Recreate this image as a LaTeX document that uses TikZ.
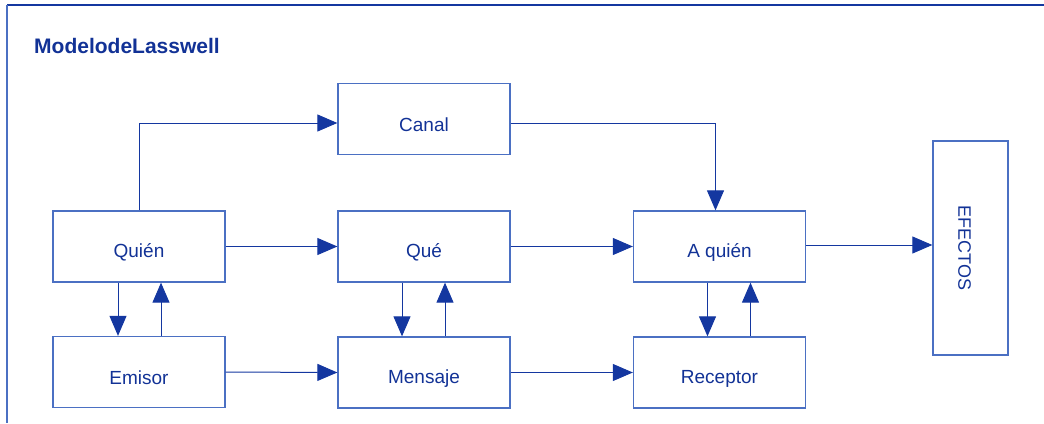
\documentclass[tikz,border=0pt]{standalone}
\usepackage{fontspec}
\setmainfont{Liberation Sans}
\usetikzlibrary{arrows.meta}
\definecolor{txtblue}{RGB}{18,50,150}
\definecolor{lineblue}{RGB}{20,55,160}
\definecolor{boxblue}{RGB}{75,112,195}
\newcommand{\lbl}[1]{\raisebox{-6pt}[\height][\depth]{#1}}
\tikzset{
  box/.style={draw=boxblue, line width=1.3pt, minimum width=172pt, minimum height=71pt, inner sep=0pt,
    text=txtblue, font=\fontsize{19}{22}\selectfont},
  conn/.style={draw=lineblue, line width=1pt, -{Triangle[length=20pt,width=17pt]}},
  frameline/.style={line width=1.3pt}
}
\begin{document}
\begin{tikzpicture}[x=1pt,y=-1pt]
\useasboundingbox (0,0) rectangle (1044,423);
\draw[frameline, draw=lineblue] (7,5) -- (1044,5);
\draw[frameline, draw=boxblue] (7,5) -- (7,423);
\node[anchor=base west, text=txtblue, font=\bfseries\fontsize{21}{24}\selectfont, inner sep=0pt] (title) at (34,53) {ModelodeLasswell};

\node[box] (quien) at (139,246.5) {\lbl{Quién}};
\node[box] (emisor) at (139,372) {\lbl{Emisor}};
\node[box] (que) at (424,246.5) {\lbl{Qué}};
\node[box] (mensaje) at (424,372.5) {\lbl{Mensaje}};
\node[box] (aquien) at (719.5,246.5) {\lbl{A quién}};
\node[box] (receptor) at (719.5,372.5) {\lbl{Receptor}};
\node[box] (canal) at (424,119) {\lbl{Canal}};
\node[box, minimum width=75pt, minimum height=214pt, font=\fontsize{18}{22}\selectfont] (efectos) at (970.5,248) {\rotatebox{-90}{\lbl{EFECTOS}}};

\draw[conn] (quien.north) |- ([yshift=-4pt]canal.west);
\draw[conn] ([yshift=-4pt]canal.east) -| ([xshift=-4pt]aquien.north);
\draw[conn] (quien.east) -- (que.west);
\draw[conn] (que.east) -- (aquien.west);
\draw[conn] ([yshift=1.5pt]aquien.east) -- ([yshift=1.5pt]aquien.east -| efectos.west);
\draw[conn] (emisor.east) -- (mensaje.west);
\draw[conn] (mensaje.east) -- (receptor.west);

\draw[conn] ([xshift=-21pt]quien.south) -- ([xshift=-21pt]emisor.north);
\draw[conn] ([xshift=22pt]emisor.north) -- ([xshift=22pt]quien.south);
\draw[conn] ([xshift=-22pt]que.south) -- ([xshift=-22pt]mensaje.north);
\draw[conn] ([xshift=21pt]mensaje.north) -- ([xshift=21pt]que.south);
\draw[conn] ([xshift=-12pt]aquien.south) -- ([xshift=-12pt]receptor.north);
\draw[conn] ([xshift=31pt]receptor.north) -- ([xshift=31pt]aquien.south);
\end{tikzpicture}
\end{document}
